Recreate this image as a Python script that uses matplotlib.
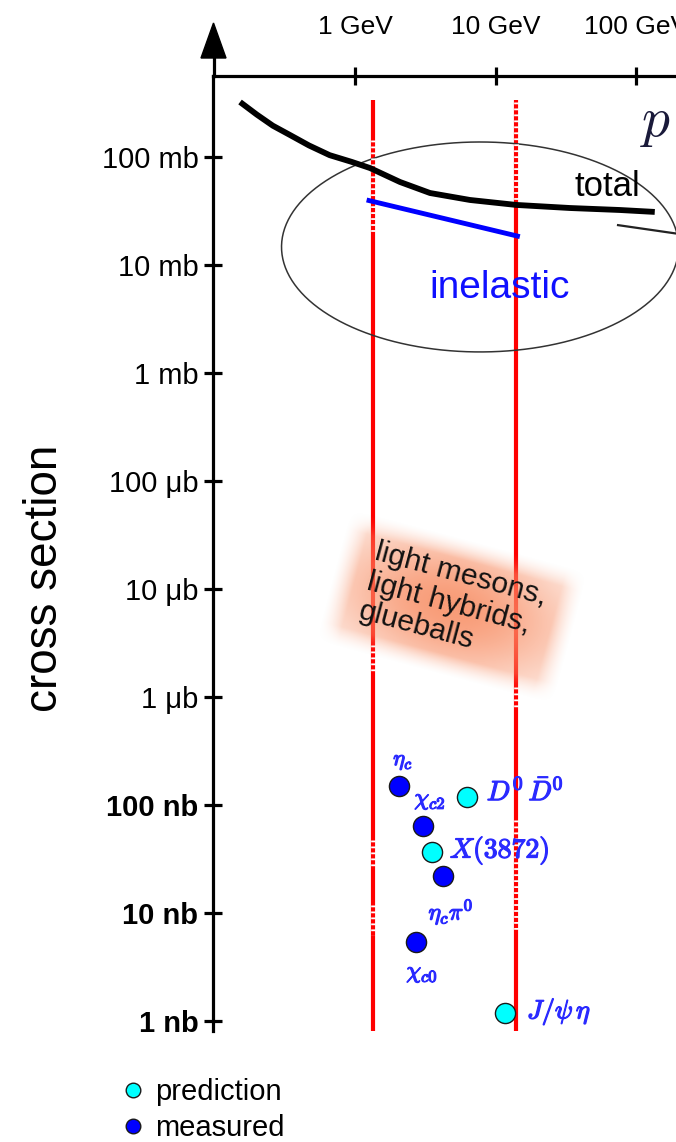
import numpy as np
import matplotlib
matplotlib.use("Agg")
import matplotlib.pyplot as plt
import matplotlib.patheffects as pe
from matplotlib.lines import Line2D
from matplotlib.transforms import Affine2D

plt.rcParams['font.family'] = ['Liberation Sans', 'DejaVu Sans']
plt.rcParams['mathtext.fontset'] = 'cm'
plt.rcParams['lines.scale_dashes'] = False

# --- data (momentum in GeV, cross section) ---
total_p = [0.152, 0.20, 0.26, 0.344, 0.47, 0.66, 0.95, 1.28, 2.09, 3.42, 6.58, 14.0, 33.9, 76.9, 136]
total_mb = [323, 247, 195, 160, 128, 104, 90, 79, 58.7, 46.4, 40, 36, 33.7, 32.3, 31]
inel_p = [1.21, 14.9]
inel_mb = [40, 18.3]
other_p = [74.5, 260]
other_mb = [23.4, 18.5]

red_lines_p = [1.34, 13.9]

names = ['eta_c', 'chi_c2', 'eta_c pi0', 'chi_c0', 'D0 D0bar', 'X(3872)', 'J/psi eta']
labels = [r'$\eta_c$', r'$\chi_{c2}$', r'$\eta_c\pi^0$', r'$\chi_{c0}$',
          r'$D^0\,\bar{D}^0$', r'$X(3872)$', r'$J/\psi\,\eta$']
pts_p = [2.06, 3.05, 4.23, 2.72, 6.24, 3.53, 11.7]
pts_nb = [150, 64, 22, 5.4, 119, 36.7, 1.19]
kind = ['measured', 'measured', 'measured', 'measured',
        'prediction', 'prediction', 'prediction']

xtick_vals = [1, 10, 100]
xtick_labels = ['1 GeV', '10 GeV', '100 GeV']
ytick_vals = [1e8, 1e7, 1e6, 1e5, 1e4, 1e3, 1e2, 1e1, 1e0]
ytick_labels = ['100 mb', '10 mb', '1 mb', '100 μb', '10 μb', '1 μb',
                '100 nb', '10 nb', '1 nb']

W, H = 676, 1142
fig = plt.figure(figsize=(W / 100, H / 100), dpi=100)


def py2nb(y):
    # vertical pixel of the sketch -> cross section in nb
    return 10 ** (8 - (y - 157) / 108)


# axes placed so that 1 GeV / decade spacing matches the sketch
left_px, right_px, top_px, bot_px = 213, 720, 76, 1031
ax = fig.add_axes([left_px / W, (H - bot_px) / H, (right_px - left_px) / W,
                   (bot_px - top_px) / H])
ax.set_xscale('log')
ax.set_yscale('log')
ax.set_xlim(10 ** ((left_px - 355) / 140.5), 10 ** ((right_px - 355) / 140.5))
ax.set_ylim(py2nb(bot_px), py2nb(top_px))
ax.patch.set_alpha(0)

for s in ['right', 'bottom']:
    ax.spines[s].set_visible(False)
for s in ['left', 'top']:
    ax.spines[s].set_linewidth(2.3)

ax.xaxis.tick_top()
ax.set_xticks(xtick_vals)
ax.set_xticklabels(xtick_labels)
ax.set_yticks(ytick_vals)
ax.set_yticklabels(ytick_labels)
ax.minorticks_off()
ax.tick_params(which='major', direction='inout', length=13, width=2.3)
ax.tick_params(axis='x', pad=20, labelsize=19)
ax.tick_params(axis='y', pad=4, labelsize=21)
for t in ax.get_yticklabels():
    if 'nb' in t.get_text():
        t.set_fontweight('bold')

# red lines, with the broken (dotted) stretches of the scanned sketch
dotted = [[(140, 233), (645, 672), (840, 868), (905, 935)],
          [(102, 205), (687, 710), (820, 930)]]
for p, segs in zip(red_lines_p, dotted):
    ax.plot([p, p], [py2nb(1031), py2nb(100)], color='red', lw=3,
            solid_capstyle='butt')
    for y0, y1 in segs:
        ax.plot([p, p], [py2nb(y0), py2nb(y1)], color='white', lw=3.4,
                dashes=(1.3, 3.0), zorder=2.5)

# cross sections
ax.plot(total_p, np.array(total_mb) * 1e6, color='black', lw=4.2,
        solid_capstyle='butt', solid_joinstyle='round', zorder=3)
ax.plot(inel_p, np.array(inel_mb) * 1e6, color='#0000ff', lw=3.5,
        solid_capstyle='butt', zorder=3)
ax.plot(other_p, np.array(other_mb) * 1e6, color='#222222', lw=1.6)

# ellipse around the hadronic cross sections (drawn in log space)
th = np.linspace(0, 2 * np.pi, 300)
ax.plot(10 ** (0.890 + 1.413 * np.cos(th)), 10 ** (7.167 + 0.972 * np.sin(th)),
        color='#333333', lw=1.1, clip_on=False)

ax.text(10 ** ((607 - 355) / 140.5), py2nb(186), 'total',
        fontsize=25, ha='center', va='center')
ax.text(10 ** ((500 - 355) / 140.5), py2nb(288), 'inelastic',
        fontsize=28, ha='center', va='center', color='#1010ff')

# charmonium points
offsets = [(4, 24, 'center'), (7, 25, 'center'), (8, -36, 'center'),
           (6, -32, 'center'), (20, 5, 'left'), (18, 2, 'left'), (22, 1, 'left')]
sizes = [16, 17, 17, 17, 20, 20, 19]
for p, s, k, lab, (dx, dy, ha), fs in zip(pts_p, pts_nb, kind, labels, offsets, sizes):
    fc = '#0000ff' if k == 'measured' else '#00ffff'
    ax.plot([p], [s], 'o', ms=14.5, mfc=fc, mec='#1a1a1a', mew=1.0, zorder=5)
    ax.annotate(lab, (p, s), xytext=(dx, dy), textcoords='offset pixels',
                ha=ha, va='center', fontsize=fs, color='#2a2aff', zorder=6,
                path_effects=[pe.withStroke(linewidth=0.9, foreground='#2a2aff')])

# overlay in pixel coordinates for the sketch decorations
ov = fig.add_axes([0, 0, 1, 1], zorder=3)
ov.axis('off')
ov.patch.set_alpha(0)

# arrow head on the vertical axis
ov.plot([213.5, 213.5], [76, 55], color='black', lw=2.3)
ov.fill([201, 226, 213.5], [58, 58, 23], color='black')

# glowing label box
gx, gy, gw, gh = 452, 607, 246, 138
u = np.linspace(-1, 1, 240)[None, :]
v = np.linspace(-1, 1, 130)[:, None]
edge = np.clip((1 - np.abs(u)) / 0.18, 0, 1) * np.clip((1 - np.abs(v)) / 0.3, 0, 1)
alpha = 0.92 * np.exp(-(u / 1.1) ** 2 - (v / 1.1) ** 2) * edge ** 1.3
img = np.zeros((130, 240, 4))
img[..., 0] = 0.975
img[..., 1] = 0.58
img[..., 2] = 0.42
img[..., 3] = alpha
im = ov.imshow(img, extent=[gx - gw / 2, gx + gw / 2, gy + gh / 2, gy - gh / 2],
               interpolation='bilinear', aspect='auto')
im.set_transform(Affine2D().rotate_deg_around(gx, gy, 15) + ov.transData)
ov.set_xlim(0, W)
ov.set_ylim(H, 0)
ov.text(453, 604, 'light mesons,\nlight hybrids,\nglueballs', fontsize=21.5,
        rotation=-15, ha='center', va='center', multialignment='left',
        rotation_mode='anchor', linespacing=1.12, color='#111111')

ov.text(640, 124, r'$p\,\bar{p}$', fontsize=40, ha='left', va='center',
        color='#1a1a3a')

fig.text(45 / W, 1 - 578 / H, 'cross section', rotation=90, fontsize=33,
         ha='center', va='center')

handles = [Line2D([], [], ls='none', marker='o', ms=10.5, mfc='#00ffff', mec='#1a1a1a'),
           Line2D([], [], ls='none', marker='o', ms=10.5, mfc='#0000ff', mec='#1a1a1a')]
fig.legend(handles, ['prediction', 'measured'], loc='upper left',
           bbox_to_anchor=(123 / W, 1 - 1078 / H), frameon=False, fontsize=21,
           handlelength=0.7, handletextpad=0.4, borderpad=0, borderaxespad=0,
           labelspacing=0.28)

fig.savefig('out.png', dpi=100)
